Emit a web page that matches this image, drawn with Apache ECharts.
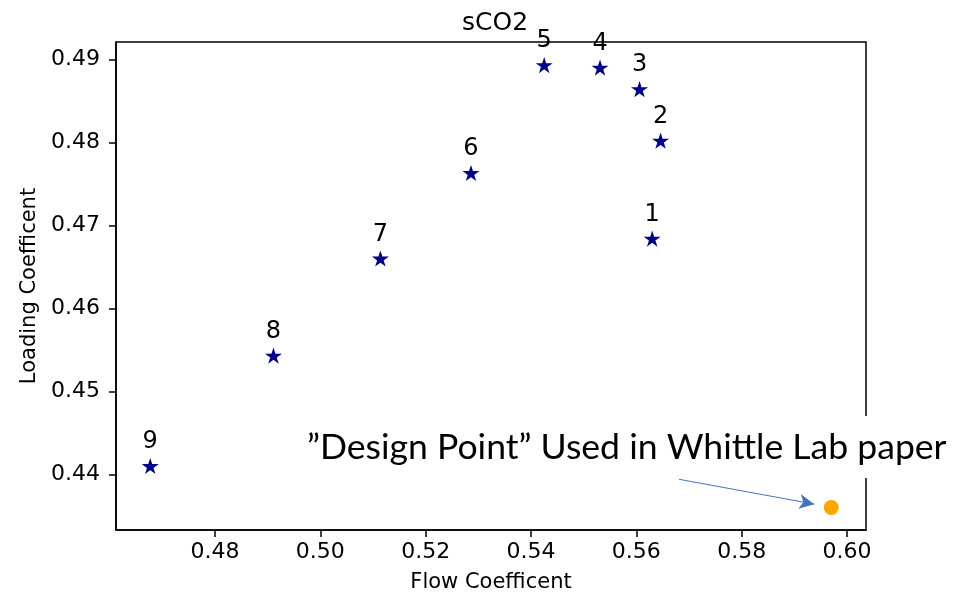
<!DOCTYPE html>
<html>
<head>
<meta charset="utf-8">
<script src="https://cdn.jsdelivr.net/npm/echarts@6/dist/echarts.min.js"></script>
<style>html,body{margin:0;padding:0;background:#fff}#c{width:968px;height:598px}</style>
</head>
<body>
<div id="c"></div>
<script>
// Data
const pointLabels = ['1', '2', '3', '4', '5', '6', '7', '8', '9'];
const flowCoeff = [0.5630, 0.5646, 0.5606, 0.5531, 0.5425, 0.5286, 0.5114, 0.4911, 0.4677];
const loadingCoeff = [0.4684, 0.4802, 0.4864, 0.4890, 0.4893, 0.4763, 0.4660, 0.4543, 0.4410];
const designPoint = [0.5970, 0.4360];
const arrowStart = [0.5681, 0.4394];
const arrowEnd = [0.5938, 0.4364];
const xTicks = [0.48, 0.50, 0.52, 0.54, 0.56, 0.58, 0.60];
const yTicks = [0.44, 0.45, 0.46, 0.47, 0.48, 0.49];
const titleText = 'sCO2';
const xName = 'Flow Coefficent';
const yName = 'Loading Coefficent';
const noteText = '\u201DDesign Point\u201D Used in Whittle Lab paper';

const starPath = 'path://M0,-1 L0.2245,-0.309 L0.951,-0.309 L0.363,0.118 L0.588,0.809 L0,0.382 L-0.588,0.809 L-0.363,0.118 L-0.951,-0.309 L-0.2245,-0.309 Z';
const FONT = 'DejaVu Sans';

const chart = echarts.init(document.getElementById('c'), null, {renderer: 'canvas'});
const axisCommon = {
  axisLine: {show: true, lineStyle: {color: '#000', width: 1.5}},
  axisTick: {show: true, inside: false, length: 7, lineStyle: {color: '#000', width: 1.5}},
  splitLine: {show: false},
  nameTextStyle: {fontFamily: FONT, fontSize: 21, color: '#000'}
};
chart.setOption({
  animation: false,
  backgroundColor: '#fff',
  title: {
    text: titleText, left: 490, top: 6, textAlign: 'center',
    textStyle: {fontFamily: FONT, fontSize: 25, fontWeight: 'normal', color: '#000'}
  },
  grid: {left: 116, right: 102, top: 42, bottom: 68, show: true, borderColor: '#000', borderWidth: 1.5, backgroundColor: 'transparent'},
  xAxis: Object.assign({}, axisCommon, {
    type: 'value', min: 0.4612, max: 0.6036,
    name: xName, nameLocation: 'middle', nameGap: 42,
    axisTick: Object.assign({}, axisCommon.axisTick, {customValues: xTicks}),
    axisLabel: {customValues: xTicks, margin: 11, fontFamily: FONT, fontSize: 22, color: '#000', formatter: v => v.toFixed(2)}
  }),
  yAxis: Object.assign({}, axisCommon, {
    type: 'value', min: 0.43329, max: 0.49208,
    name: yName, nameLocation: 'middle', nameGap: 74,
    axisTick: Object.assign({}, axisCommon.axisTick, {customValues: yTicks}),
    axisLabel: {customValues: yTicks, margin: 16, fontFamily: FONT, fontSize: 22, color: '#000', formatter: v => v.toFixed(2)}
  }),
  series: [
    {
      type: 'scatter',
      symbol: starPath, symbolKeepAspect: true, symbolSize: 17,
      itemStyle: {color: '#00008B', opacity: 1},
      data: flowCoeff.map((x, i) => ({value: [x, loadingCoeff[i]], name: pointLabels[i]})),
      label: {show: true, position: 'top', distance: 4, formatter: p => p.name, fontFamily: FONT, fontSize: 24, color: '#000', opacity: 1},
      z: 3
    },
    {
      type: 'scatter',
      symbol: 'circle', symbolSize: 15,
      itemStyle: {color: '#FFA500', opacity: 1},
      data: [designPoint],
      markLine: {
        silent: true, animation: false,
        symbol: ['none', 'arrow'], symbolSize: [11, 15],
        lineStyle: {color: '#4472C4', width: 1, type: 'solid', opacity: 1},
        label: {show: false},
        data: [[{coord: arrowStart}, {coord: arrowEnd}]]
      },
      z: 3
    }
  ],
  graphic: [
    {type: 'rect', z: 100, shape: {x: 296, y: 416, width: 662, height: 62}, style: {fill: '#fff'}},
    {type: 'text', z: 101, x: 307, y: 448, style: {text: noteText, font: '35.6px Lato', fill: '#000', verticalAlign: 'middle', align: 'left'}}
  ]
});
</script>
</body>
</html>
